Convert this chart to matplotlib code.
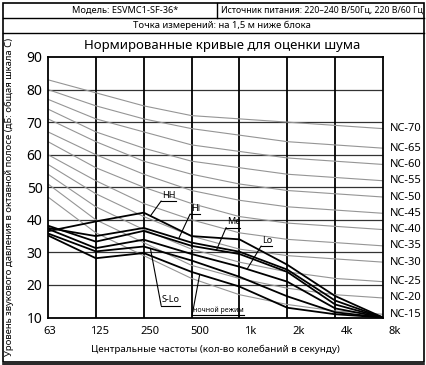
import numpy as np
import matplotlib.pyplot as plt
from matplotlib.lines import Line2D
from matplotlib.patches import Rectangle
from matplotlib.transforms import ScaledTranslation

plt.rcParams['font.family'] = ['Noto Sans', 'DejaVu Sans']

W, H = 426, 365

# octave band centre frequencies
freq_labels = ['63', '125', '250', '500', '1k', '2k', '4k', '8k']

# noise criterion reference curves (dB per octave band)
nc_names = ['NC-70', 'NC-65', 'NC-60', 'NC-55', 'NC-50', 'NC-45',
            'NC-40', 'NC-35', 'NC-30', 'NC-25', 'NC-20', 'NC-15']
nc_70 = [83, 79, 75, 72, 71, 70, 69, 68]
nc_65 = [80, 75, 71, 68, 66, 64, 63, 62]
nc_60 = [77, 71, 67, 63, 61, 59, 58, 57]
nc_55 = [74, 67, 62, 58, 56, 54, 53, 52]
nc_50 = [71, 64, 58, 54, 51, 49, 48, 47]
nc_45 = [67, 60, 54, 49, 46, 44, 43, 42]
nc_40 = [64, 56, 50, 45, 41, 39, 38, 37]
nc_35 = [60, 52, 45, 40, 36, 34, 33, 32]
nc_30 = [57, 48, 41, 35, 31, 29, 28, 27]
nc_25 = [54, 44, 37, 31, 27, 24, 22, 21]
nc_20 = [51, 40, 33, 26, 22, 19, 17, 16]
nc_15 = [47, 36, 29, 22, 17, 14, 12, 11]
nc_curves = [nc_70, nc_65, nc_60, nc_55, nc_50, nc_45,
             nc_40, nc_35, nc_30, nc_25, nc_20, nc_15]

# measured unit spectra per fan speed
spl_hh = [36.5, 39.5, 42.2, 35.0, 34.0, 26.2, 16.6, 10.0]
spl_hi = [37.5, 35.0, 37.5, 33.0, 30.2, 24.7, 15.2, 10.0]
spl_me = [38.2, 33.3, 36.6, 32.0, 29.5, 24.0, 14.0, 10.0]
spl_lo = [37.2, 31.3, 33.9, 29.5, 25.6, 21.0, 12.8, 10.0]
spl_slo = [35.8, 30.3, 31.8, 27.5, 22.5, 16.5, 11.6, 10.0]
spl_night = [35.2, 28.2, 29.8, 24.0, 19.5, 13.0, 11.0, 10.0]
unit_curves = [spl_hh, spl_hi, spl_me, spl_lo, spl_slo, spl_night]

x = np.arange(len(freq_labels))


def fx(px):
    return px / W


def fy(py):
    return 1 - py / H


fig = plt.figure(figsize=(W / 100, H / 100), dpi=100)
ax = fig.add_axes([fx(48), fy(317.5), fx(383) - fx(48), fy(57) - fy(317.5)])

for vals in nc_curves:
    ax.plot(x, vals, color='#959595', lw=0.8, zorder=2)
for vals in unit_curves:
    ax.plot(x, vals, color='black', lw=1.3, zorder=4)

for name, vals in zip(nc_names, nc_curves):
    ax.text(7.15, vals[-1], name, fontsize=8, va='center', ha='left',
            clip_on=False)

ax.set_xlim(0, 7)
ax.set_ylim(10, 90)
ax.set_xticks(x)
ax.set_xticklabels(freq_labels, fontsize=8)
ax.set_yticks(range(10, 91, 10))
ax.tick_params(length=0, pad=4)
ax.tick_params(axis='x', pad=6)
# tick labels sit a little right of their grid lines, more so to the right
shifts = [2, 4, 6, 8, 11, 11, 12, 12]
for lab, dx in zip(ax.get_xticklabels(), shifts):
    lab.set_transform(lab.get_transform()
                      + ScaledTranslation(dx / 100, 0, fig.dpi_scale_trans))
for v in range(20, 90, 10):
    ax.axhline(v, color='#333333', lw=0.9, zorder=1)
for i in x[1:-1]:
    ax.axvline(i, color='black', lw=1.3, zorder=1)
for s in ax.spines.values():
    s.set_linewidth(1.3)

ax.set_xlabel('Центральные частоты (кол-во колебаний в секунду)', fontsize=7,
              labelpad=6)

fig.text(fx(9), fy(197), 'Уровень звукового давления в октавной полосе '
         '(дБ: общая шкала С)', rotation=90, fontsize=6.8, ha='center',
         va='center')
fig.text(fx(222), fy(45), 'Нормированные кривые для оценки шума',
         fontsize=9.5, ha='center', va='center')

# header table
fig.text(fx(125), fy(10.5), 'Модель: ESVMC1-SF-36*', fontsize=6.6,
         ha='center', va='center')
fig.text(fx(221), fy(10.5), 'Источник питания: 220–240 В/50Гц, 220 В/60 Гц',
         fontsize=6.3, ha='left', va='center')
fig.text(fx(222), fy(25), 'Точка измерений: на 1,5 м ниже блока',
         fontsize=6.8, ha='center', va='center')


def hline(y0, x0=2.5, x1=423.5, lw=1.0):
    fig.add_artist(Line2D([fx(x0), fx(x1)], [fy(y0), fy(y0)], color='black',
                          lw=lw, transform=fig.transFigure))


def vline(x0, y0, y1, lw=1.0):
    fig.add_artist(Line2D([fx(x0), fx(x0)], [fy(y0), fy(y1)], color='black',
                          lw=lw, transform=fig.transFigure))


fig.add_artist(Rectangle((fx(2.5), fy(361.5)), fx(421), fy(0) - fy(359),
                         fill=False, lw=1.2, color='black',
                         transform=fig.transFigure))
hline(17.5)
hline(32.5)
vline(217, 2.5, 17.5)
hline(364, lw=1.2)


# speed labels with leader lines
def speed_label(text, vals, xi, tx, ty, size=6.5):
    yv = np.interp(xi, x, vals)
    t = fig.text(fx(tx), fy(ty), text, fontsize=size, ha='left',
                 va='bottom')
    fig.canvas.draw()
    bb = t.get_window_extent()
    ul = 1 - (ty + 1) / H
    fig.add_artist(Line2D([bb.x0 / W - 0.002, bb.x1 / W],
                          [ul, ul], color='black', lw=0.8,
                          transform=fig.transFigure))
    ax.annotate('', xy=(xi, yv), xytext=(fx(tx) - 0.002, ul),
                textcoords='figure fraction',
                arrowprops=dict(arrowstyle='-', color='black', lw=0.8,
                                shrinkA=0, shrinkB=0))


speed_label('HH', spl_hh, 2.14, 162, 200)
speed_label('Hi', spl_hi, 2.73, 191, 213)
speed_label('Me', spl_me, 3.52, 227, 226.5)
speed_label('Lo', spl_lo, 4.16, 262, 245)
speed_label('S-Lo', spl_slo, 2.14, 162, 304.5)
speed_label('ночной режим', spl_night, 3.17, 193, 314, size=5)

fig.savefig('out.png', dpi=100)
